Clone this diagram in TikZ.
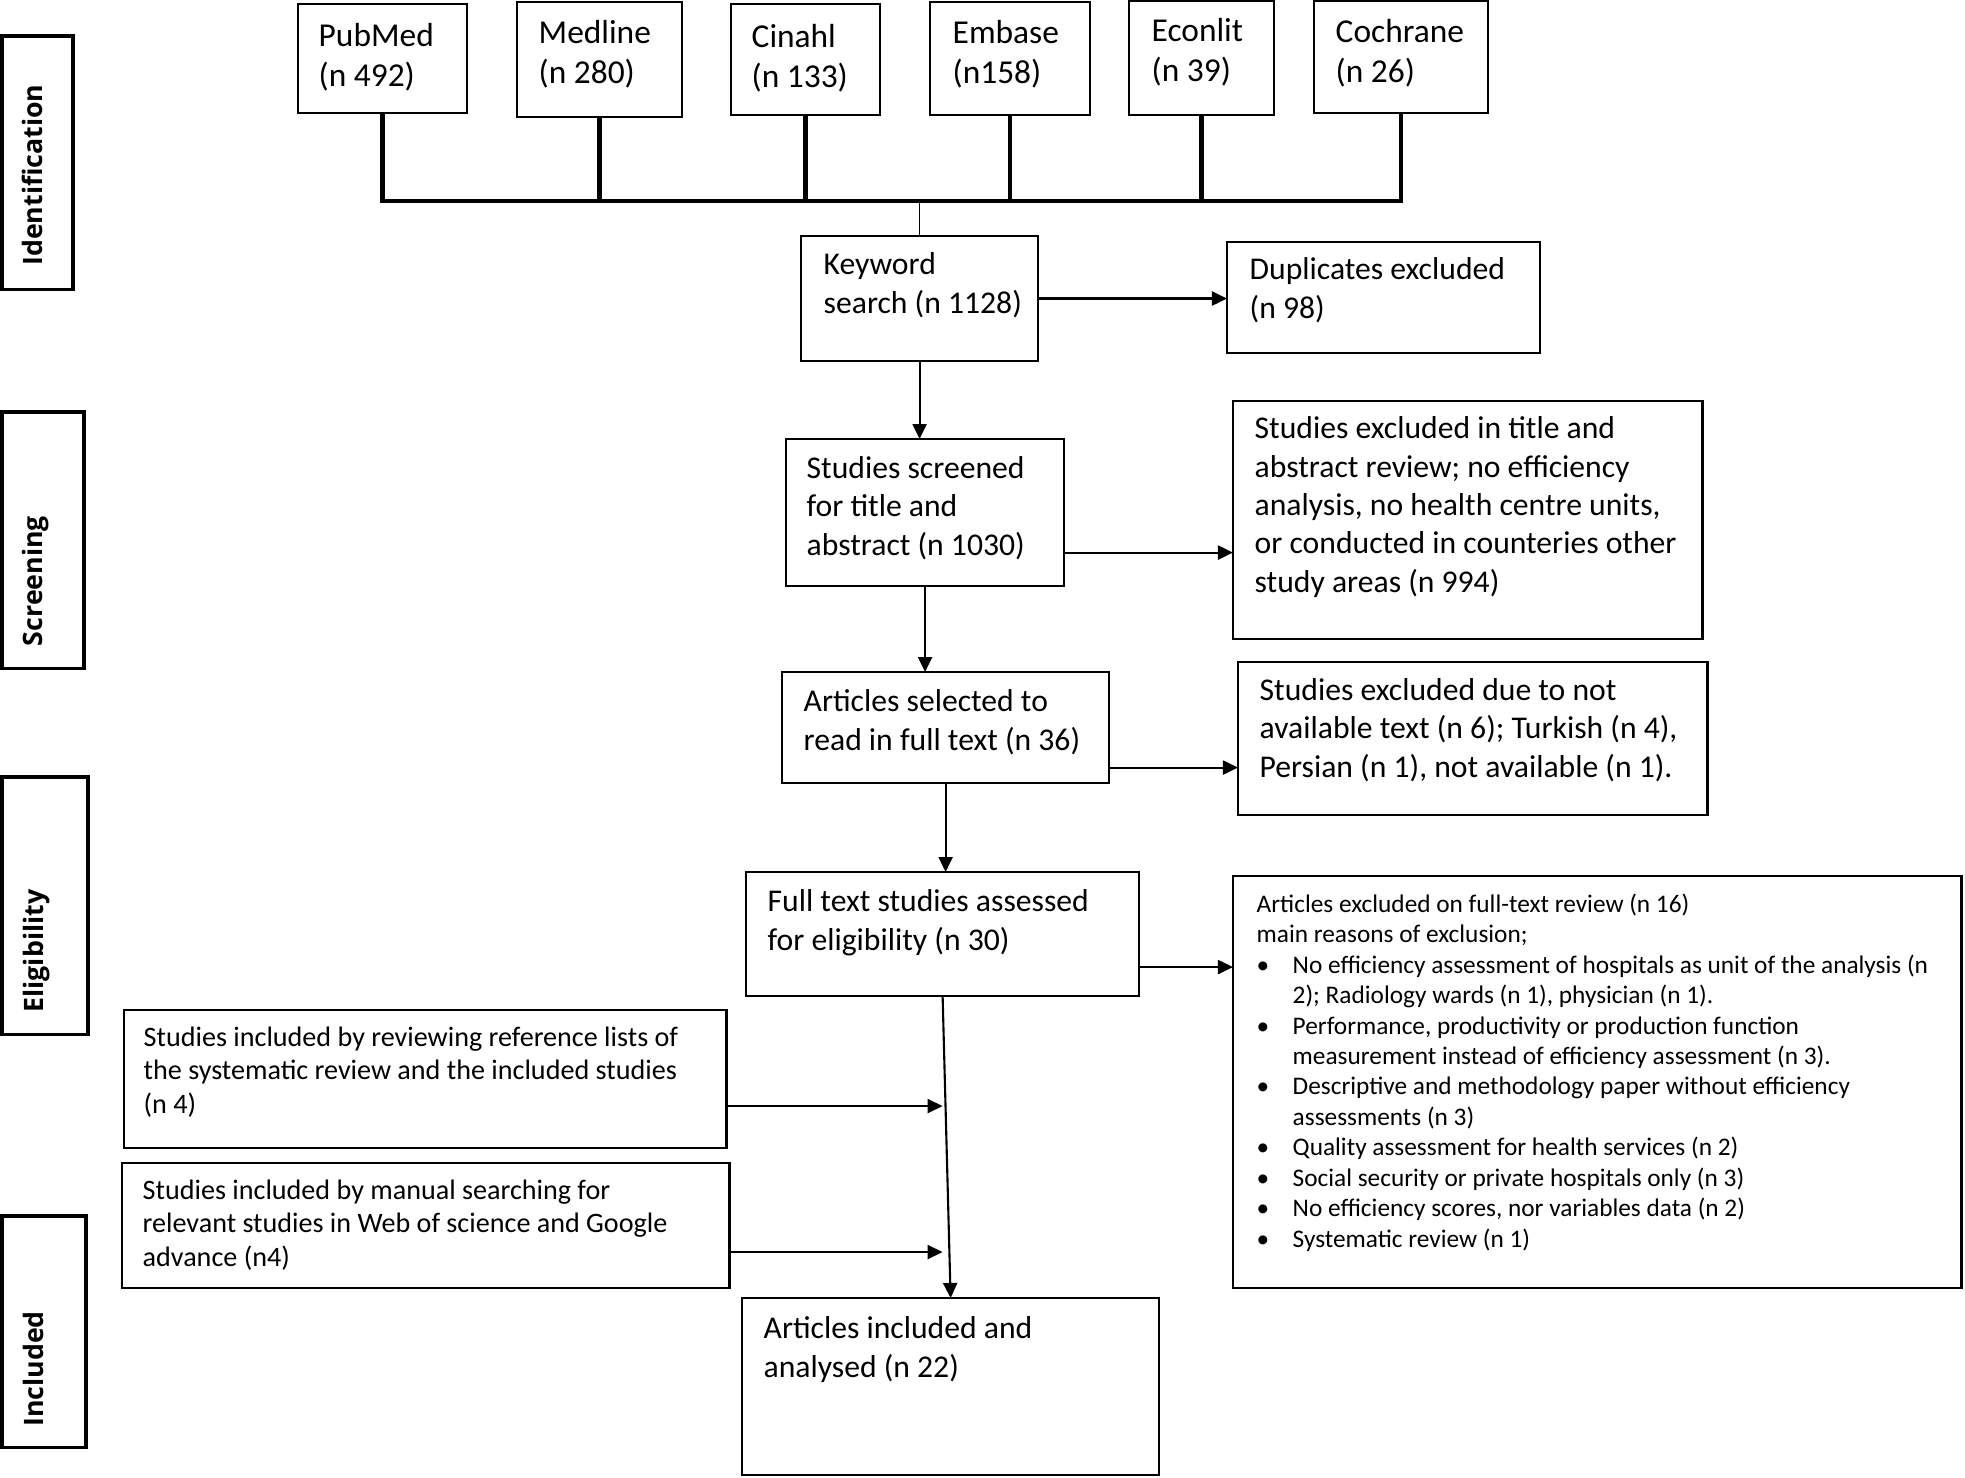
\documentclass[tikz,border=0pt]{standalone}
\usepackage{fontspec}
\setmainfont{Carlito}
\newfontfamily\phasefont{Open Sans}
\usetikzlibrary{arrows.meta}

\newcommand{\bul}{\makebox[0.36cm][l]{\textbullet}}
\newcommand{\ind}{\hspace*{0.36cm}}

\tikzset{
	box/.style={ draw, line width=0.7pt, anchor=north west, inner sep=0pt, outer sep=0pt },
	phasebox/.style={ box, line width=0.9pt },
	txt/.style={ anchor=base west, align=left, inner sep=0pt, font=\fontsize{9}{10.9}\selectfont },
	dbtxt/.style={ txt, font=\fontsize{9.5}{11.3}\selectfont },
	smalltxt/.style={ txt, font=\fontsize{8}{9.4}\selectfont },
	listtxt/.style={ txt, font=\fontsize{7.2}{8.65}\selectfont },
	phase/.style={ anchor=base, rotate=90, inner sep=0pt, font=\phasefont\bfseries\fontsize{7.6}{9}\selectfont },
	dbline/.style={ line width=1.2pt },
	arr/.style={ line width=0.6pt, -{Triangle[length=0.15cm, width=0.14cm]} }
}

\begin{document}
\begin{tikzpicture}[ x=0.01cm, y=-0.01cm ]
	  \useasboundingbox (0,0) rectangle (1965,1478);

	  \node [ phasebox, minimum width=0.71cm, minimum height=2.53cm ] (ident) at (2,36) {};
	  \node [ phasebox, minimum width=0.82cm, minimum height=2.56cm ] (screen) at (2,412) {};
	  \node [ phasebox, minimum width=0.86cm, minimum height=2.57cm ] (elig) at (2,777) {};
	  \node [ phasebox, minimum width=0.84cm, minimum height=2.31cm ] (incl) at (2,1216) {};
	  \node [ phase ] (ident-t) at (43,175) {Identification};
	  \node [ phase ] (screen-t) at (43,581) {Screening};
	  \node [ phase ] (elig-t) at (44,951) {Eligibility};
	  \node [ phase ] (incl-t) at (44,1369) {Included};

	  \node [ box, minimum width=1.69cm, minimum height=1.09cm ] (pubmed) at (298,4) {};
	  \node [ box, minimum width=1.65cm, minimum height=1.15cm ] (medline) at (517,2) {};
	  \node [ box, minimum width=1.49cm, minimum height=1.11cm ] (cinahl) at (731,4) {};
	  \node [ box, minimum width=1.60cm, minimum height=1.13cm ] (embase) at (930,2) {};
	  \node [ box, minimum width=1.45cm, minimum height=1.14cm ] (econlit) at (1129,1) {};
	  \node [ box, minimum width=1.74cm, minimum height=1.12cm ] (cochrane) at (1314,1) {};
	  \node [ dbtxt ] (pubmed-t) at (318,86) {PubMed\\(n 492)};
	  \node [ dbtxt ] (medline-t) at (538,83) {Medline\\(n 280)};
	  \node [ dbtxt ] (cinahl-t) at (751,87) {Cinahl\\(n 133)};
	  \node [ dbtxt ] (embase-t) at (952,83) {Embase\\(n158)};
	  \node [ dbtxt ] (econlit-t) at (1151,81) {Econlit\\(n 39)};
	  \node [ dbtxt ] (cochrane-t) at (1335,82) {Cochrane\\(n 26)};

	  \coordinate (bar) at (0,201);
	  \draw [ dbline ] (pubmed.south) |- (cochrane.south |- bar)--(cochrane.south);
	  \draw [ dbline ] (medline.south)--(medline.south |- bar);
	  \draw [ dbline ] (cinahl.south)--(cinahl.south |- bar);
	  \draw [ dbline ] (embase.south)--(embase.south |- bar);
	  \draw [ dbline ] (econlit.south)--(econlit.south |- bar);

	  \node [ box, minimum width=2.37cm, minimum height=1.25cm ] (kw) at (801,236) {};
	  \node [ box, minimum width=3.13cm, minimum height=1.11cm ] (dup) at (1227,242) {};
	  \node [ box, minimum width=2.78cm, minimum height=1.47cm ] (screened) at (786,439) {};
	  \node [ box, minimum width=4.69cm, minimum height=2.38cm ] (excl1) at (1233,401) {};
	  \node [ box, minimum width=3.27cm, minimum height=1.11cm ] (selected) at (782,672) {};
	  \node [ box, minimum width=4.69cm, minimum height=1.53cm ] (excl2) at (1238,662) {};
	  \node [ box, minimum width=3.93cm, minimum height=1.24cm ] (fulltext) at (746,872) {};
	  \node [ box, minimum width=7.28cm, minimum height=4.12cm ] (excl3) at (1233,876) {};
	  \node [ box, minimum width=6.02cm, minimum height=1.38cm ] (reflist) at (124,1010) {};
	  \node [ box, minimum width=6.07cm, minimum height=1.25cm ] (manual) at (122,1163) {};
	  \node [ box, minimum width=4.17cm, minimum height=1.77cm ] (final) at (742,1298) {};

	  \node [ txt ] (kw-t) at (823,313) {Keyword\\search (n 1128)};
	  \node [ txt ] (dup-t) at (1249,318) {Duplicates excluded\\(n 98)};
	  \node [ txt ] (screened-t) at (806,555) {Studies screened\\for title and\\abstract (n 1030)};
	  \node [ txt ] (excl1-t) at (1254,592) {Studies excluded in title and\\abstract review; no efficiency\\analysis, no health centre units,\\or conducted in counteries other\\study areas (n 994)};
	  \node [ txt ] (selected-t) at (803,750) {Articles selected to\\read in full text (n 36)};
	  \node [ txt ] (excl2-t) at (1259,777) {Studies excluded due to not\\available text (n 6); Turkish (n 4),\\Persian (n 1), not available (n 1).};
	  \node [ txt ] (fulltext-t) at (767,950) {Full text studies assessed\\for eligibility (n 30)};
	  \node [ listtxt ] (excl3-t) at (1256,1247) {Articles excluded on full-text review (n 16)\\main reasons of exclusion;\\
	    \bul No efficiency assessment of hospitals as unit of the analysis (n\\\ind 2); Radiology wards (n 1), physician (n 1).\\
	    \bul Performance, productivity or production function\\\ind measurement instead of efficiency assessment (n 3).\\
	    \bul Descriptive and methodology paper without efficiency\\\ind assessments (n 3)\\
	    \bul Quality assessment for health services (n 2)\\
	    \bul Social security or private hospitals only (n 3)\\
	    \bul No efficiency scores, nor variables data (n 2)\\
	    \bul Systematic review (n 1)};
	  \node [ smalltxt ] (reflist-t) at (143,1113) {Studies included by reviewing reference lists of\\the systematic review and the included studies\\(n 4)};
	  \node [ smalltxt ] (manual-t) at (142,1266) {Studies included by manual searching for\\relevant studies in Web of science and Google\\advance (n4)};
	  \node [ txt ] (final-t) at (763,1377) {Articles included and\\analysed (n 22)};

	  \draw [ line width=0.5pt ] (kw.north)--(kw.north |- bar);
	  \draw [ arr ] (kw.east)--(kw.east -| dup.west);
	  \draw [ arr ] (kw.south)--(kw.south |- screened.north);
	  \coordinate (scr-out) at ([yshift=-0.4cm]screened.east);
	  \draw [ arr ] (scr-out)--(scr-out -| excl1.west);
	  \draw [ arr ] (screened.south)--(screened.south |- selected.north);
	  \coordinate (sel-out) at ([yshift=-0.4cm]selected.east);
	  \draw [ arr ] (sel-out)--(sel-out -| excl2.west);
	  \draw [ arr ] (selected.south)--(selected.south |- fulltext.north);
	  \coordinate (ft-out) at ([yshift=-0.33cm]fulltext.east);
	  \draw [ arr ] (ft-out)--(ft-out -| excl3.west);
	  \draw [ arr ] (fulltext.south)--(final.north);
	  \coordinate (ref-out) at ([yshift=-0.27cm]reflist.east);
	  \draw [ arr ] (ref-out)--(ref-out -| fulltext.south);
	  \coordinate (man-out) at ([yshift=-0.265cm]manual.east);
	  \draw [ arr ] (man-out)--(man-out -| fulltext.south);
	\end{tikzpicture}
\end{document}
